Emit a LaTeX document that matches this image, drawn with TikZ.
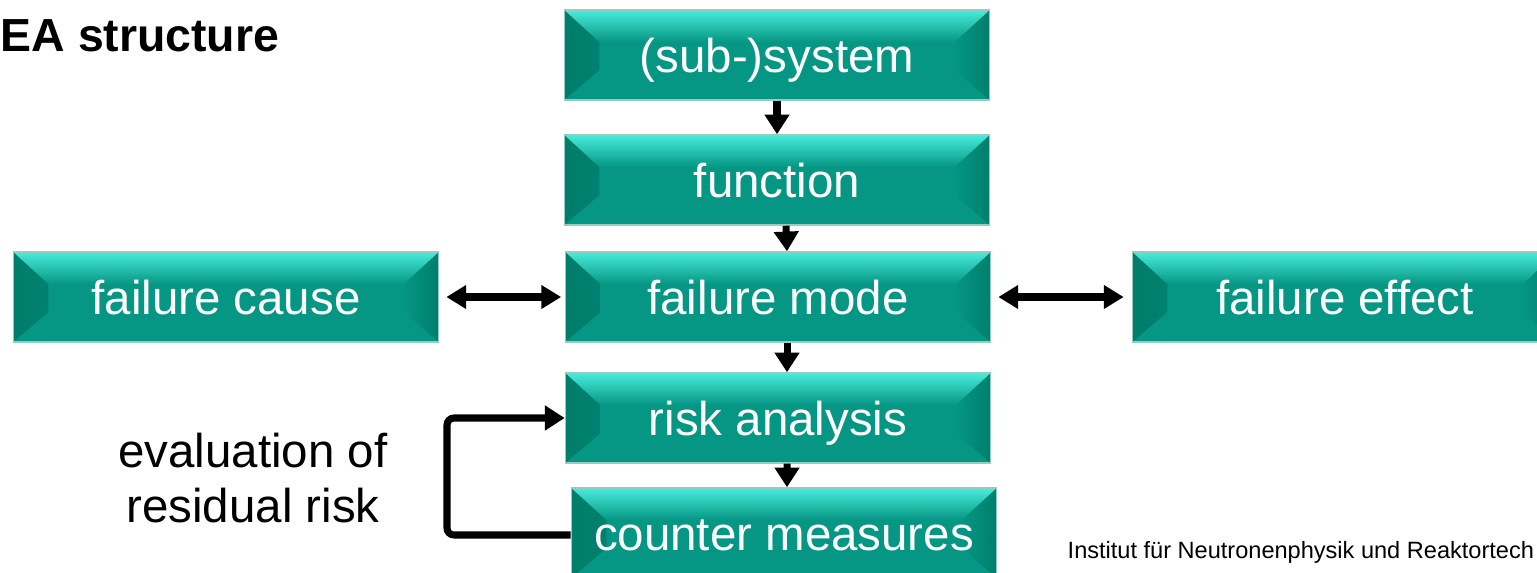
\documentclass[tikz,border=0pt]{standalone}
\usepackage{fontspec}
\setmainfont{Liberation Sans}
\usetikzlibrary{arrows.meta, positioning, calc}
\definecolor{tealmain}{RGB}{6,150,132}
\definecolor{tealtop}{RGB}{72,236,218}
\definecolor{tealside}{RGB}{0,126,108}
\definecolor{tealedge}{RGB}{150,205,195}

\tikzset{
  bevelbox/.style={minimum width=4.25cm, minimum height=0.9cm, inner sep=0pt,
    text height=0.4cm, text depth=0.06cm,
    fill=tealmain, draw=tealedge, line width=0.4pt, text=white,
    font=\fontsize{13.5}{16}\selectfont,
    path picture={
      \shade[left color=tealside, right color=tealmain] (path picture bounding box.north west)
        -- ([shift={(0.35cm,-0.32cm)}]path picture bounding box.north west)
        -- ([shift={(0.35cm,0.3cm)}]path picture bounding box.south west)
        -- (path picture bounding box.south west) -- cycle;
      \shade[right color=tealside, left color=tealmain] (path picture bounding box.north east)
        -- ([shift={(-0.35cm,-0.32cm)}]path picture bounding box.north east)
        -- ([shift={(-0.35cm,0.3cm)}]path picture bounding box.south east)
        -- (path picture bounding box.south east) -- cycle;
      \shade[top color=tealtop, bottom color=tealmain] (path picture bounding box.north west)
        -- (path picture bounding box.north east)
        -- ([shift={(-0.35cm,-0.32cm)}]path picture bounding box.north east)
        -- ([shift={(0.35cm,-0.32cm)}]path picture bounding box.north west) -- cycle;
    }},
  arr/.style={line width=2pt, -{Triangle[length=5.6pt,width=6.8pt]}},
  dblarr/.style={line width=2pt, {Triangle[length=5.6pt,width=6.4pt]}-{Triangle[length=5.6pt,width=6.4pt]}}
}

\begin{document}
\begin{tikzpicture}[x=0.01cm, y=-0.01cm]
  \useasboundingbox (0,0) rectangle (1537,573);
  \clip (0,0) rectangle (1537,573);

  % title and footer
  \node[anchor=base west, inner sep=0pt, font=\fontsize{13.2}{15}\selectfont\bfseries] (title) at (0,52) {EA structure};
  \node[anchor=base west, inner sep=0pt, font=\fontsize{6.7}{8}\selectfont] (footer) at (1067,558) {Institut für Neutronenphysik und Reaktortech};

  % boxes
  \node[bevelbox] (sys) at (777,55) {(sub-)system};
  \node[bevelbox] (func) at (777,180) {function};
  \node[bevelbox] (mode) at (778,297) {failure mode};
  \node[bevelbox] (cause) at (226,297) {failure cause};
  \node[bevelbox] (effect) at (1345,297) {failure effect};
  \node[bevelbox] (risk) at (778,418) {risk analysis};
  \node[bevelbox] (counter) at (784,533) {counter measures};

  \node[align=center, font=\fontsize{13.5}{15.6}\selectfont] (evalrisk) at (253,478) {evaluation of\\residual risk};

  % arrows
  \draw[arr] (sys.south) -- (func.north);
  \draw[arr] ([xshift=0.09cm]func.south) -- ([xshift=0.09cm]mode.north);
  \draw[arr] ([xshift=0.09cm]mode.south) -- ([xshift=0.09cm]risk.north);
  \draw[arr] ([xshift=0.09cm]risk.south) -- ([xshift=0.03cm]counter.north);
  \draw[dblarr] ([xshift=2pt]cause.east) -- ([xshift=-1pt]mode.west);
  \draw[dblarr] ([xshift=0.07cm]mode.east) -- ([xshift=-0.08cm]effect.west);

  \coordinate (loop) at (447,418);
  \draw[arr, rounded corners=2pt] ([yshift=-0.02cm]counter.west) -| (loop) -- (risk.west);
\end{tikzpicture}
\end{document}
